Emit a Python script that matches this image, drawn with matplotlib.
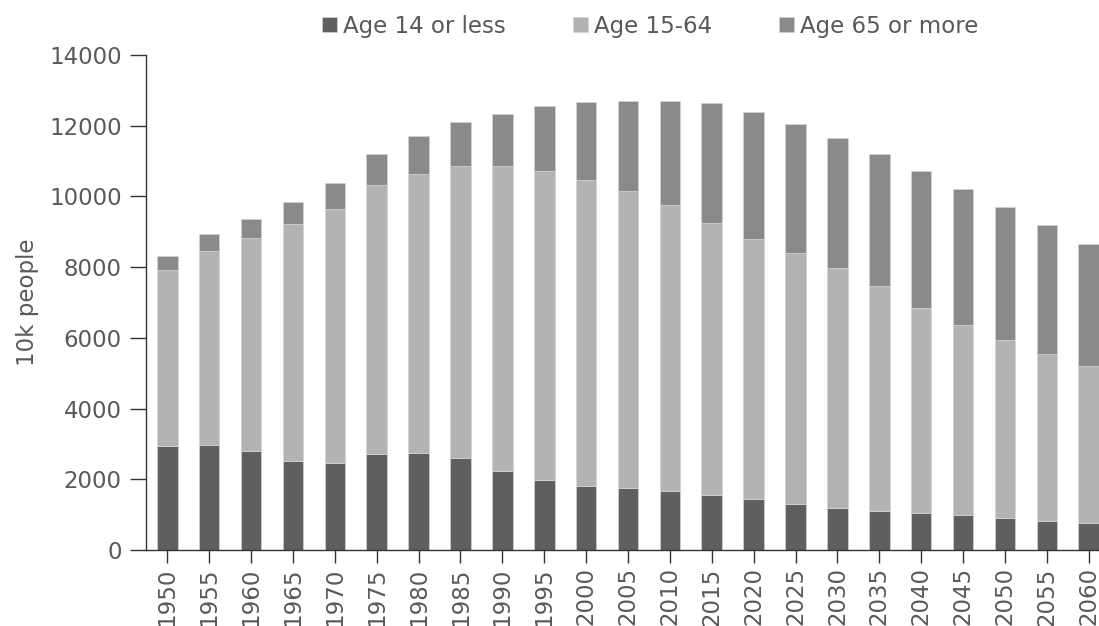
import matplotlib.pyplot as plt
import numpy as np

years = [1950, 1955, 1960, 1965, 1970, 1975, 1980, 1985, 1990, 1995, 2000, 2005,
         2010, 2015, 2020, 2025, 2030, 2035, 2040, 2045, 2050, 2055, 2060]
age_0_14 = [2930, 2966, 2805, 2512, 2465, 2720, 2748, 2588, 2247, 1990, 1822, 1740,
            1662, 1549, 1436, 1294, 1180, 1096, 1039, 982, 916, 831, 765]
age_15_64 = [4976, 5487, 6008, 6697, 7169, 7595, 7887, 8275, 8606, 8735, 8643, 8413,
             8105, 7698, 7346, 7101, 6782, 6365, 5799, 5375, 5015, 4723, 4440]
age_65 = [406, 473, 538, 624, 737, 878, 1068, 1246, 1473, 1819, 2192, 2560,
          2927, 3391, 3610, 3655, 3683, 3731, 3873, 3844, 3760, 3627, 3447]
labels = ['Age 14 or less', 'Age 15-64', 'Age 65 or more']
colors = ['#5f5f5f', '#b3b3b3', '#8a8a8a']

text_color = '#595959'
fs = 16.5
plt.rcParams['font.family'] = ['DejaVu Sans']

fig = plt.figure(figsize=(10.99, 6.26), dpi=100)
ax = fig.add_axes([146 / 1099, 76 / 626, 964 / 1099, 495 / 626])

x = np.arange(len(years))
bottom = np.zeros(len(years))
handles = []
for vals, lab, col in zip([age_0_14, age_15_64, age_65], labels, colors):
    b = ax.bar(x, vals, width=0.49, bottom=bottom, color=col, label=lab,
               edgecolor='#d4d4d4', linewidth=0.5)
    bottom += np.array(vals)
    handles.append(b)

ax.set_xlim(-0.51, len(years) - 0.49)
ax.set_ylim(0, 14000)
ax.set_yticks(range(0, 14001, 2000))
ax.set_xticks(x)
ax.set_xticklabels([str(y) for y in years], rotation=90)

for s in ['top', 'right']:
    ax.spines[s].set_visible(False)
for s in ['left', 'bottom']:
    ax.spines[s].set_color('#333333')
    ax.spines[s].set_linewidth(1.0)

ax.tick_params(axis='both', width=1.0, color='#333333',
               labelsize=fs, labelcolor=text_color)
ax.tick_params(axis='y', length=11.5, pad=6)
ax.tick_params(axis='x', length=9.5, pad=3)
ax.set_ylabel('10k people', fontsize=fs, color=text_color)
# ylabel anchor is its right edge on screen
ax.yaxis.set_label_coords(-0.111, 0.5)

fig.legend(handles=handles, labels=labels, loc='center left', ncol=3,
           bbox_to_anchor=(322 / 1099, 1 - 26 / 626), frameon=False,
           fontsize=fs, handlelength=0.65, handleheight=0.65, handletextpad=0.25,
           columnspacing=2.95, labelcolor=text_color, borderpad=0, borderaxespad=0)

fig.savefig('out.png', dpi=100)
